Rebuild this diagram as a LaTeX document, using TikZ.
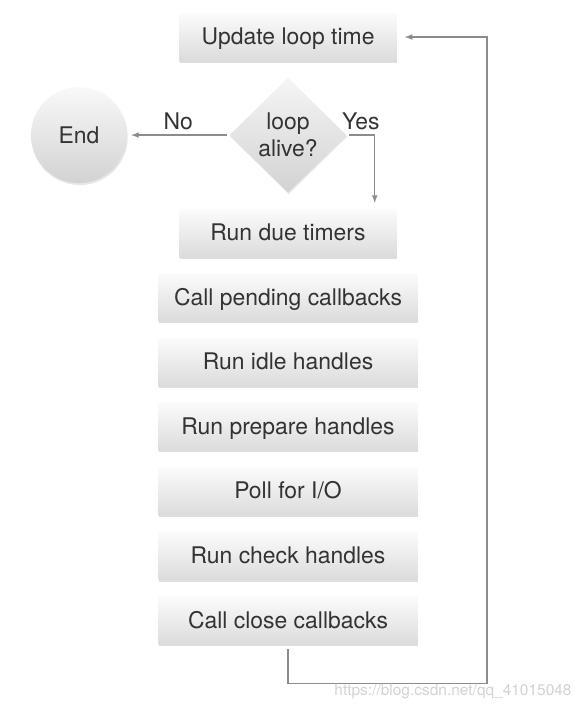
\documentclass[tikz,border=0pt]{standalone}
\usepackage{fontspec}
\setmainfont{TeX Gyre Heros}
\usetikzlibrary{shapes.geometric, positioning, arrows, shadows}

\begin{document}
\begin{tikzpicture}[
  node distance=0.4cm and 2.55cm,
  every node/.style={font=\fontsize{16.3}{19.5}\selectfont, text=black!80},
  mybox/.style={rectangle, minimum width=5.425cm, minimum height=1.2cm,
    text depth=0.05cm, top color=gray!3, bottom color=gray!28, draw=none,
    drop shadow={opacity=0.25, shadow xshift=0.02cm, shadow yshift=-0.04cm}},
  widebox/.style={mybox, minimum width=6.475cm},
  mydiamond/.style={diamond, minimum width=2.925cm, minimum height=2.875cm,
    inner sep=0pt, align=center, top color=gray!8, bottom color=gray!35,
    drop shadow={opacity=0.2, shadow xshift=0.02cm, shadow yshift=-0.04cm}},
  mycircle/.style={circle, minimum size=2.4cm, top color=gray!5, bottom color=gray!35,
    drop shadow={opacity=0.2, shadow xshift=0.02cm, shadow yshift=-0.05cm}},
  myline/.style={draw=gray!90, line width=0.85pt}
]
\useasboundingbox (0,0) rectangle (14.6,-17.625);

\node[mybox] (update) at (7.2,-0.925) {Update loop time};
\node[mydiamond,below=of update] (alive) {loop\\alive?};
\node[mycircle,left=of alive] (end) {End};
\node[mybox,below=of alive] (timers) {Run due timers};
\node[widebox,below=of timers] (pending) {Call pending callbacks};
\node[widebox,below=of pending] (idle) {Run idle handles};
\node[widebox,below=of idle] (prepare) {Run prepare handles};
\node[widebox,below=of prepare] (poll) {Poll for I/O};
\node[widebox,below=of poll] (check) {Run check handles};
\node[widebox,below=of check] (close) {Call close callbacks};

\coordinate (yesdown) at ([xshift=-0.55cm]timers.north east);
\coordinate (back) at ([yshift=-0.975cm]close.south);

\draw[myline,-latex,shorten <=0.05cm,shorten >=0.1cm] (alive.west) -- node[above] {No} (end.east);
\draw[myline,-latex,shorten <=0.05cm,shorten >=0.15cm] (alive.east) -| node[above,pos=0.25] {Yes} (yesdown);
\draw[myline,-latex,shorten <=0.1cm,shorten >=0.2cm] (close.south) -- (back) -- ++(4.975,0) |- (update.east);

\node[font=\fontsize{11}{13}\selectfont, text=gray!35] (mark) at (11.325,-17.3) {https://blog.csdn.net/qq\_41015048};

\end{tikzpicture}
\end{document}
